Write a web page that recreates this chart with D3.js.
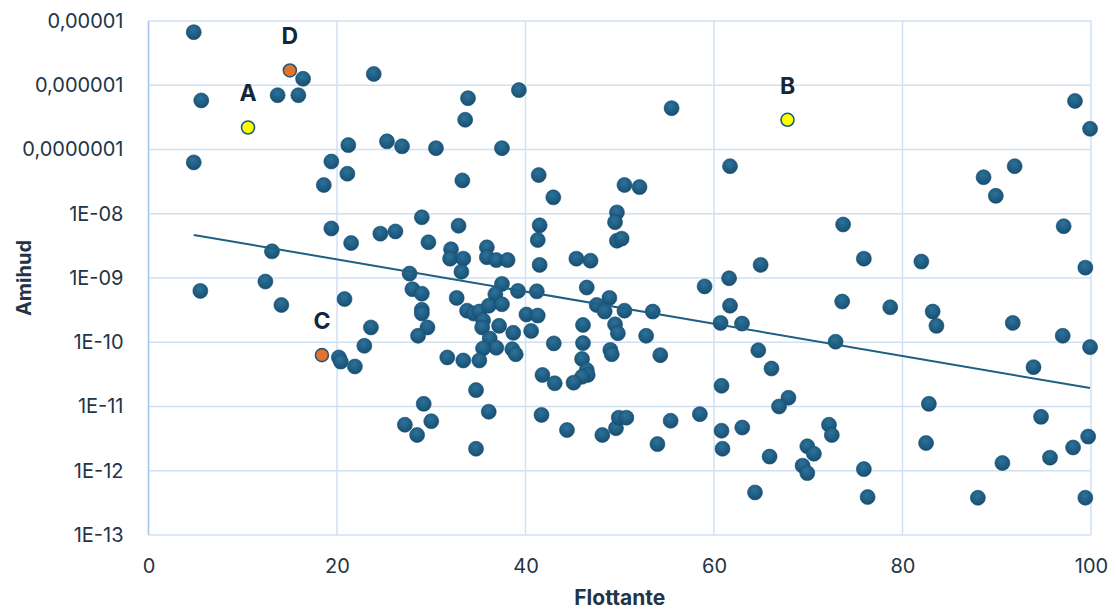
<!DOCTYPE html>
<html>
<head>
<meta charset="utf-8">
<script src="https://cdn.jsdelivr.net/npm/d3@7"></script>
<style>
  body { margin: 0; background: #fff; }
  svg { display: block; }
</style>
</head>
<body>
<div id="chart"></div>
<script>
// Flottante (%) of each stock
const flottante = [
  4.8, 15.0, 16.4, 23.9, 5.6, 13.7, 15.9, 10.56, 4.8, 21.2,
  25.3, 26.9, 30.5, 19.4, 21.1, 18.6, 33.3, 33.9, 33.6, 19.4,
  21.5, 24.6, 26.2, 29.0, 29.7, 32.9, 32.1, 32.0, 33.4, 33.2,
  13.1, 12.4, 27.7, 5.5, 14.1, 20.8, 18.4, 20.2, 20.4, 21.9,
  22.9, 23.6, 28.0, 29.0, 29.0, 29.0, 29.6, 28.6, 32.7, 33.8,
  31.7, 33.4, 29.2, 30.0, 27.2, 28.5, 39.3, 55.5, 67.8, 37.5,
  41.4, 42.95, 50.5, 52.1, 61.7, 41.5, 41.3, 49.7, 49.5, 49.7,
  50.2, 35.9, 35.9, 36.9, 38.1, 41.5, 45.4, 46.9, 64.95, 61.6,
  37.5, 36.8, 39.2, 41.2, 46.5, 48.9, 47.55, 48.4, 50.5, 53.5,
  59.0, 61.7, 60.7, 62.97, 64.7, 66.1, 67.9, 66.9, 34.5, 35.1,
  36.1, 37.5, 35.5, 35.4, 37.2, 38.7, 40.1, 41.3, 40.6, 36.2,
  36.9, 35.5, 38.6, 38.96, 35.1, 43.0, 46.1, 46.1, 46.0, 46.5,
  46.6, 46.0, 45.1, 49.5, 49.8, 49.0, 49.15, 52.8, 54.3, 41.8,
  43.1, 34.75, 36.1, 34.75, 41.7, 44.4, 48.15, 49.6, 49.9, 50.7,
  54.0, 55.4, 58.5, 60.8, 60.8, 60.9, 63.0, 65.9, 64.35, 98.3,
  99.9, 91.9, 88.6, 89.9, 73.7, 75.9, 82.0, 97.1, 99.4, 73.6,
  78.7, 83.2, 83.6, 91.7, 97.0, 99.9, 93.9, 72.9, 82.8, 94.7,
  99.7, 98.1, 95.65, 90.6, 82.5, 72.2, 72.5, 69.9, 70.6, 69.4,
  69.9, 75.9, 76.3, 88.0, 99.4
];

// Amihud illiquidity ratio of each stock (same order)
const amihud = [
  6.7e-6, 1.7e-6, 1.26e-6, 1.5e-6, 5.8e-7, 7.0e-7, 7.0e-7, 2.2e-7, 6.3e-8, 1.17e-7,
  1.34e-7, 1.12e-7, 1.05e-7, 6.5e-8, 4.2e-8, 2.8e-8, 3.3e-8, 6.3e-7, 2.9e-7, 5.9e-9,
  3.5e-9, 4.9e-9, 5.3e-9, 8.8e-9, 3.6e-9, 6.5e-9, 2.8e-9, 2.0e-9, 2.0e-9, 1.25e-9,
  2.6e-9, 8.8e-10, 1.17e-9, 6.3e-10, 3.8e-10, 4.7e-10, 6.3e-11, 5.8e-11, 5.0e-11, 4.2e-11,
  8.8e-11, 1.7e-10, 6.7e-10, 5.7e-10, 3.2e-10, 2.8e-10, 1.7e-10, 1.26e-10, 4.9e-10, 3.1e-10,
  5.8e-11, 5.2e-11, 1.1e-11, 5.9e-12, 5.2e-12, 3.6e-12, 8.4e-7, 4.4e-7, 2.9e-7, 1.05e-7,
  4.0e-8, 1.8e-8, 2.8e-8, 2.6e-8, 5.5e-8, 6.6e-9, 3.9e-9, 1.05e-8, 7.4e-9, 3.8e-9,
  4.1e-9, 3.0e-9, 2.1e-9, 1.9e-9, 1.9e-9, 1.6e-9, 2.0e-9, 1.86e-9, 1.6e-9, 9.9e-10,
  8.1e-10, 5.6e-10, 6.3e-10, 6.2e-10, 7.1e-10, 4.9e-10, 3.8e-10, 3.0e-10, 3.1e-10, 3.0e-10,
  7.4e-10, 3.7e-10, 2.0e-10, 1.95e-10, 7.5e-11, 3.9e-11, 1.37e-11, 1.0e-11, 2.8e-10, 3.0e-10,
  3.7e-10, 3.9e-10, 2.2e-10, 1.7e-10, 1.8e-10, 1.4e-10, 2.7e-10, 2.6e-10, 1.5e-10, 1.14e-10,
  8.2e-11, 8.0e-11, 7.8e-11, 6.5e-11, 5.2e-11, 9.6e-11, 1.86e-10, 9.7e-11, 5.5e-11, 3.7e-11,
  3.1e-11, 2.9e-11, 2.35e-11, 1.9e-10, 1.38e-10, 7.6e-11, 6.5e-11, 1.26e-10, 6.3e-11, 3.1e-11,
  2.3e-11, 1.8e-11, 8.3e-12, 2.2e-12, 7.4e-12, 4.3e-12, 3.6e-12, 4.6e-12, 6.7e-12, 6.7e-12,
  2.6e-12, 6.0e-12, 7.6e-12, 2.1e-11, 4.2e-12, 2.2e-12, 4.7e-12, 1.66e-12, 4.6e-13, 5.7e-7,
  2.1e-7, 5.5e-8, 3.7e-8, 1.9e-8, 6.8e-9, 2.0e-9, 1.8e-9, 6.4e-9, 1.45e-9, 4.3e-10,
  3.5e-10, 3.0e-10, 1.8e-10, 2.0e-10, 1.26e-10, 8.4e-11, 4.1e-11, 1.02e-10, 1.1e-11, 6.9e-12,
  3.4e-12, 2.3e-12, 1.6e-12, 1.32e-12, 2.7e-12, 5.2e-12, 3.6e-12, 2.4e-12, 1.84e-12, 1.2e-12,
  9.2e-13, 1.06e-12, 3.9e-13, 3.8e-13, 3.8e-13
];

// highlighted stocks: label, index in the arrays above, colour
const highlightLabels = ["A", "B", "C", "D"];
const highlightIndex = [7, 58, 36, 1];
const highlightColors = ["#ffff00", "#ffff00", "#e8722c", "#e8722c"];

const xTicks = [0, 20, 40, 60, 80, 100];
const yTicks = [1e-13, 1e-12, 1e-11, 1e-10, 1e-9, 1e-8, 1e-7, 1e-6, 1e-5];
const yTickLabels = ["1E-13", "1E-12", "1E-11", "1E-10", "1E-09", "1E-08", "0,0000001", "0,000001", "0,00001"];

const width = 1116, height = 610;
const margin = { top: 21, right: 25, bottom: 75, left: 148.5 };

const svg = d3.select("#chart").append("svg")
  .attr("width", width)
  .attr("height", height);

const x = d3.scaleLinear().domain([0, 100]).range([margin.left, width - margin.right]);
const y = d3.scaleLog().domain([1e-13, 1e-5]).range([height - margin.bottom, margin.top]);

const gridColor = "#d0e1f4";
const textColor = "#223447";
const font = "Inter, Roboto, sans-serif";

// gradient for the markers
const defs = svg.append("defs");
const grad = defs.append("radialGradient").attr("id", "dotGrad")
  .attr("cx", "45%").attr("cy", "35%").attr("r", "65%");
grad.append("stop").attr("offset", "0%").attr("stop-color", "#2d729a");
grad.append("stop").attr("offset", "100%").attr("stop-color", "#174f72");

// grid
svg.append("g")
  .selectAll("line")
  .data(yTicks)
  .join("line")
  .attr("x1", x(0)).attr("x2", x(100))
  .attr("y1", d => y(d)).attr("y2", d => y(d))
  .attr("stroke", gridColor).attr("stroke-width", 1.5);

svg.append("g")
  .selectAll("line")
  .data(xTicks)
  .join("line")
  .attr("x1", d => x(d)).attr("x2", d => x(d))
  .attr("y1", y(1e-13)).attr("y2", y(1e-5))
  .attr("stroke", gridColor).attr("stroke-width", 1.5);

// left axis line
svg.append("line")
  .attr("x1", x(0)).attr("x2", x(0))
  .attr("y1", y(1e-13)).attr("y2", y(1e-5))
  .attr("stroke", "#a9c9ec").attr("stroke-width", 1.5);

// axes (tick text only)
const yAxis = d3.axisLeft(y)
  .tickValues(yTicks)
  .tickFormat((d, i) => yTickLabels[i])
  .tickSize(0)
  .tickPadding(25);

svg.append("g")
  .attr("transform", `translate(${x(0)},0)`)
  .call(yAxis)
  .call(g => g.select(".domain").remove())
  .selectAll("text")
  .attr("fill", textColor)
  .style("font-family", font)
  .style("font-size", "20px");

const xAxis = d3.axisBottom(x)
  .tickValues(xTicks)
  .tickFormat(d3.format("d"))
  .tickSize(0)
  .tickPadding(24);

svg.append("g")
  .attr("transform", `translate(0,${y(1e-13)})`)
  .call(xAxis)
  .call(g => g.select(".domain").remove())
  .selectAll("text")
  .attr("fill", textColor)
  .style("font-family", font)
  .style("font-size", "20px");

// axis titles
svg.append("text")
  .attr("x", (x(0) + x(100)) / 2)
  .attr("y", 605)
  .attr("text-anchor", "middle")
  .attr("fill", textColor)
  .style("font-family", font)
  .style("font-weight", "bold")
  .style("font-size", "21px")
  .text("Flottante");

svg.append("text")
  .attr("transform", `translate(31,${(y(1e-13) + y(1e-5)) / 2}) rotate(-90)`)
  .attr("text-anchor", "middle")
  .attr("fill", textColor)
  .style("font-family", font)
  .style("font-weight", "bold")
  .style("font-size", "20px")
  .text("Amihud");

// points
const points = flottante.map((f, i) => ({ x: f, y: amihud[i], i: i }));
const special = new Set(highlightIndex);

svg.append("g")
  .selectAll("circle")
  .data(points.filter(p => !special.has(p.i)))
  .join("circle")
  .attr("cx", d => x(d.x))
  .attr("cy", d => y(d.y))
  .attr("r", 7.5)
  .attr("fill", "url(#dotGrad)")
  .attr("stroke", "#154a6b")
  .attr("stroke-width", 0.6);

// exponential trend line (linear fit on log10)
const n = points.length;
const lx = points.map(p => p.x);
const ly = points.map(p => Math.log10(p.y));
const mx = d3.mean(lx), my = d3.mean(ly);
let sxy = 0, sxx = 0;
for (let k = 0; k < n; k++) {
  sxy += (lx[k] - mx) * (ly[k] - my);
  sxx += (lx[k] - mx) * (lx[k] - mx);
}
const slope = sxy / sxx;
const intercept = my - slope * mx;
const [xmin, xmax] = d3.extent(lx);

svg.append("line")
  .attr("x1", x(xmin)).attr("y1", y(Math.pow(10, intercept + slope * xmin)))
  .attr("x2", x(xmax)).attr("y2", y(Math.pow(10, intercept + slope * xmax)))
  .attr("stroke", "#1e5f84")
  .attr("stroke-width", 2);

// highlighted points and labels
const hl = highlightIndex.map((idx, k) => ({
  label: highlightLabels[k], color: highlightColors[k], x: flottante[idx], y: amihud[idx]
}));

svg.append("g")
  .selectAll("circle")
  .data(hl)
  .join("circle")
  .attr("cx", d => x(d.x))
  .attr("cy", d => y(d.y))
  .attr("r", 6.5)
  .attr("fill", d => d.color)
  .attr("stroke", "#1d5b80")
  .attr("stroke-width", 1.6);

svg.append("g")
  .selectAll("text")
  .data(hl)
  .join("text")
  .attr("x", d => x(d.x))
  .attr("y", d => y(d.y) - 26)
  .attr("text-anchor", "middle")
  .attr("fill", "#14263c")
  .style("font-family", font)
  .style("font-weight", "bold")
  .style("font-size", "23px")
  .text(d => d.label);
</script>
</body>
</html>
